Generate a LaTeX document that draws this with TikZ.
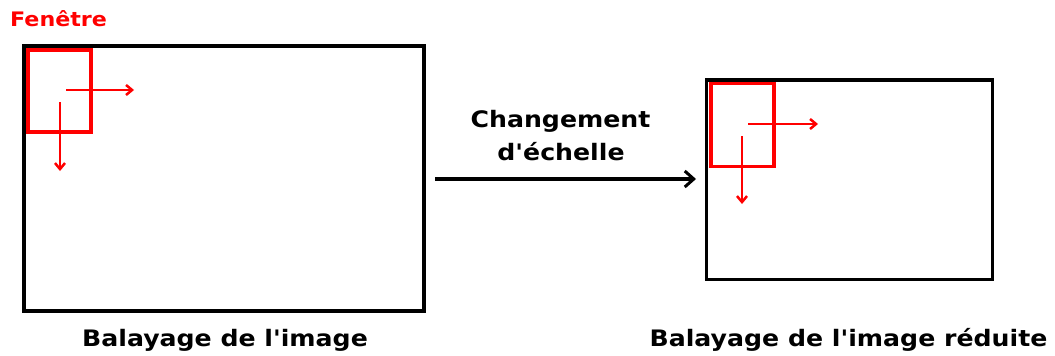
\documentclass[tikz,border=0pt]{standalone}
\usepackage{fontspec}
\usepackage{graphicx}
\setmainfont{DejaVu Sans}[Ligatures=NoCommon]
\usetikzlibrary{arrows.meta}
\newcommand{\widetext}[1]{\scalebox{1.2}[1.08]{#1}}
\tikzset{
  frame/.style={draw=black, line width=3.5pt},
  window/.style={draw=red, line width=3.5pt},
  scan/.style={draw=red, line width=2.5pt, -{Straight Barb[length=6pt,width=10pt,line width=2.5pt]}},
  label/.style={inner sep=0pt, anchor=base, font=\bfseries\fontsize{21}{21}\selectfont},
}
\begin{document}
\begin{tikzpicture}[x=1pt,y=-1pt]
  \useasboundingbox (0,0) rectangle (1055,356);
  \fill[white] (0,0) rectangle (1055,356);

  % full-size image
  \draw[frame] (24,46) rectangle (424,311);
  \draw[window] (28,50) rectangle (91,132);
  \coordinate (lhs) at (66,90);  \coordinate (lhe) at (134,90);
  \coordinate (lvs) at (60,102); \coordinate (lve) at (60,171);
  \draw[scan] (lhs) -- (lhe);
  \draw[scan] (lvs) -- (lve);
  \node[inner sep=0pt, anchor=base west, text=red, font=\bfseries\fontsize{18.5}{18.5}\selectfont] (fen) at (10,27) {\widetext{Fenêtre}};
  \node[label] (leftcap) at (225,346.5) {\widetext{Balayage de l\textquotesingle image}};

  % reduced image
  \draw[frame] (706.5,80) rectangle (992.5,279.5);
  \draw[window] (711,83.5) rectangle (774,166.5);
  \coordinate (rhs) at (748,124);  \coordinate (rhe) at (818,124);
  \coordinate (rvs) at (742,136);  \coordinate (rve) at (742,204);
  \draw[scan] (rhs) -- (rhe);
  \draw[scan] (rvs) -- (rve);
  \node[label] (rightcap) at (848.5,346.5) {\widetext{Balayage de l\textquotesingle image réduite}};

  % scale change
  \coordinate (as) at (435,179);
  \coordinate (ae) at (696,179);
  \draw[line width=4pt, -{Straight Barb[length=9pt,width=16pt,line width=3pt]}] (as) -- (ae);
  \node[label] (chg1) at (560.5,127) {\widetext{Changement}};
  \node[label] (chg2) at (561,160) {\widetext{d\textquotesingle échelle}};
\end{tikzpicture}
\end{document}
